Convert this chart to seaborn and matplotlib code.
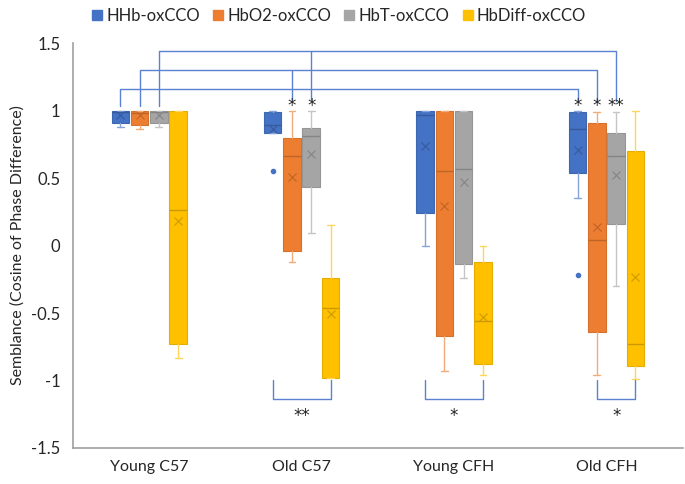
import numpy as np
import matplotlib
matplotlib.use("Agg")
import matplotlib.pyplot as plt
import matplotlib.patches as mpatches
import seaborn as sns

groups = ["Young C57", "Old C57", "Young CFH", "Old CFH"]
series = ["HHb-oxCCO", "HbO2-oxCCO", "HbT-oxCCO", "HbDiff-oxCCO"]
colors = ["#4472C4", "#ED7D31", "#A5A5A5", "#FFC000"]

# one row per series, one column per group
whis_lo = [[0.88, 0.83, 0.00, 0.35],
           [0.86, -0.12, -0.93, -0.96],
           [0.88, 0.09, -0.24, -0.30],
           [-0.83, -0.98, -0.96, -0.99]]
q1 = [[0.91, 0.83, 0.24, 0.54],
      [0.89, -0.04, -0.67, -0.64],
      [0.91, 0.43, -0.14, 0.16],
      [-0.73, -0.98, -0.88, -0.89]]
med = [[0.99, 0.89, 0.97, 0.86],
       [0.98, 0.66, 0.55, 0.04],
       [0.99, 0.81, 0.57, 0.66],
       [0.26, -0.46, -0.56, -0.73]]
q3 = [[1.0, 0.99, 1.0, 0.99],
      [1.0, 0.80, 1.0, 0.91],
      [1.0, 0.87, 1.0, 0.83],
      [1.0, -0.24, -0.12, 0.70]]
whis_hi = [[1.0, 1.0, 1.0, 1.0],
           [1.0, 1.0, 1.0, 0.99],
           [1.0, 1.0, 1.0, 0.99],
           [1.0, 0.15, 0.0, 1.0]]
means = [[0.97, 0.86, 0.74, 0.71],
         [0.97, 0.51, 0.29, 0.14],
         [0.97, 0.68, 0.47, 0.52],
         [0.18, -0.51, -0.53, -0.23]]
outliers = [[[], [0.55], [], [-0.22]],
            [[], [], [], []],
            [[], [], [], []],
            [[], [], [], []]]

# significance marks: (group, series, text)
top_stars = [(1, 1, "*"), (1, 2, "*"), (3, 0, "*"), (3, 1, "*"), (3, 2, "**")]
# brackets below: (group, first series, last series, text)
low_brackets = [(1, 0, 3, "**"), (2, 0, 3, "*"), (3, 1, 3, "*")]
# long links over the top: (series, level, groups touched)
links = [(0, 1.16, [0, 3]), (1, 1.30, [0, 1, 3]), (2, 1.44, [0, 1, 3])]

sns.set_style("white")
plt.rcParams["font.family"] = ["Lato", "DejaVu Sans"]
plt.rcParams["axes.unicode_minus"] = False

fig = plt.figure(figsize=(6.85, 4.84), dpi=100)
ax = fig.add_axes([0.1066, 0.0744, 0.89, 0.8367])

offsets = np.array([-0.19, -0.063, 0.063, 0.19])
width = 0.115


def shade(c, f):
    rgb = np.array(matplotlib.colors.to_rgb(c))
    if f < 1:
        return tuple(rgb * f)
    return tuple(rgb + (1 - rgb) * (f - 1))


for s in range(len(series)):
    stats = []
    for g in range(len(groups)):
        stats.append(dict(whislo=whis_lo[s][g], q1=q1[s][g], med=med[s][g],
                          q3=q3[s][g], whishi=whis_hi[s][g], mean=means[s][g],
                          fliers=outliers[s][g]))
    c = colors[s]
    dark = shade(c, 0.8)
    light = shade(c, 1.35)
    ax.bxp(stats, positions=np.arange(len(groups)) + offsets[s], widths=width,
           showmeans=True, patch_artist=True, capwidths=0.045,
           boxprops=dict(facecolor=c, edgecolor=shade(c, 0.9), linewidth=0.8),
           medianprops=dict(color=dark, linewidth=1.0),
           whiskerprops=dict(color=light, linewidth=1.0),
           capprops=dict(color=light, linewidth=1.0),
           meanprops=dict(marker="x", markeredgecolor=dark, markersize=6,
                          markeredgewidth=0.8),
           flierprops=dict(marker="o", markerfacecolor=c, markeredgecolor=c,
                           markersize=3))

line_c = "#5B82D2"
for s, level, gs in links:
    xs = [g + offsets[s] for g in gs]
    ax.plot([xs[0], xs[0], xs[-1], xs[-1]], [1.03, level, level, 1.07],
            color=line_c, lw=1.0)
    for x in xs[1:-1]:
        ax.plot([x, x], [level, 1.08], color=line_c, lw=1.0)

star_font = dict(family="DejaVu Sans", fontsize=12, color="#222222")
for g, s, txt in top_stars:
    ax.text(g + offsets[s], 1.03, txt, ha="center", va="center", **star_font)

for g, s0, s1, txt in low_brackets:
    x0 = g + offsets[s0]
    x1 = g + offsets[s1]
    ax.plot([x0, x0, x1, x1], [-1.0, -1.14, -1.14, -1.0], color=line_c, lw=1.0)
    ax.text((x0 + x1) / 2, -1.26, txt, ha="center", va="center", **star_font)

ax.set_xlim(-0.5, 3.5)
ax.set_ylim(-1.5, 1.5)
ax.set_xticks(range(len(groups)))
ax.set_xticklabels(groups, fontsize=11.5)
ax.set_yticks([-1.5, -1, -0.5, 0, 0.5, 1, 1.5])
ax.set_yticklabels(["{:g}".format(v) for v in [-1.5, -1, -0.5, 0, 0.5, 1, 1.5]],
                   fontsize=12)
ax.tick_params(length=0, pad=9)
ax.set_ylabel("Semblance (Cosine of Phase Difference)", fontsize=11.5,
              labelpad=5)
for side in ["top", "right"]:
    ax.spines[side].set_visible(False)
for side in ["left", "bottom"]:
    ax.spines[side].set_color("#A0A0A0")
    ax.spines[side].set_linewidth(1.2)

handles = [mpatches.Patch(color=c, label=n) for c, n in zip(colors, series)]
fig.legend(handles=handles, loc="upper center", bbox_to_anchor=(0.495, 1.015),
           ncol=4, frameon=False, fontsize=12, handlelength=0.6,
           handleheight=0.6, handletextpad=0.25, columnspacing=0.8)

fig.savefig("out.png", dpi=100)
